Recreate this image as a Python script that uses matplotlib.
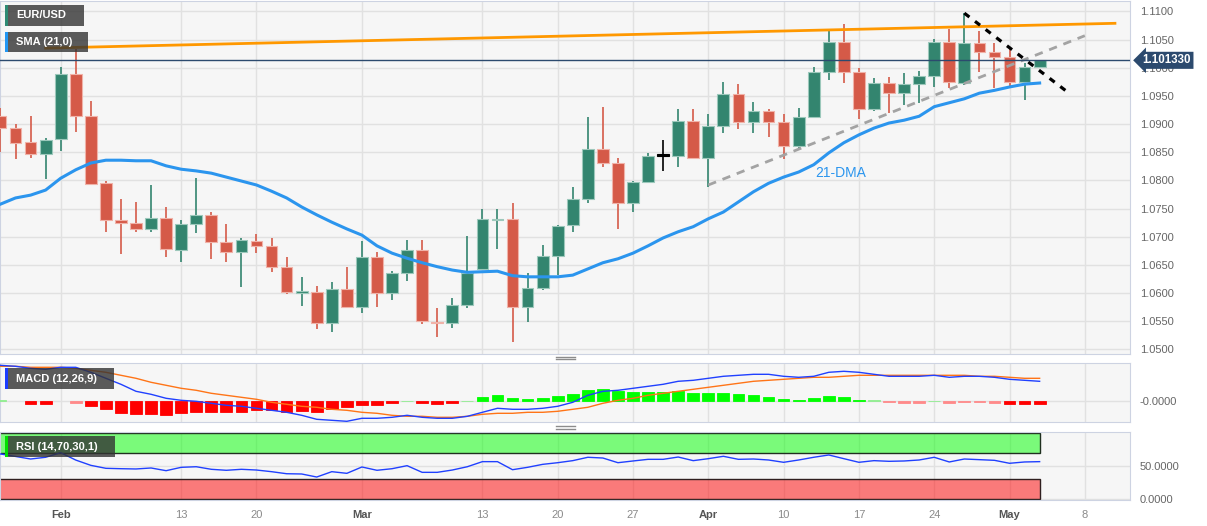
import numpy as np
import pandas as pd
import matplotlib
matplotlib.use("Agg")
import matplotlib.pyplot as plt
from matplotlib.patches import Rectangle
from matplotlib.lines import Line2D

plt.rcParams['font.family'] = ['Liberation Sans', 'DejaVu Sans']

# daily EUR/USD candles, 26 Jan - 3 May 2023
dates = pd.bdate_range("2023-01-26", "2023-05-03")

opens = [1.0914, 1.0893, 1.0869, 1.0847, 1.0874, 1.0989, 1.0914, 1.0796, 1.0729, 1.0724,
         1.0714, 1.0733, 1.0677, 1.0723, 1.0739, 1.0691, 1.0673, 1.0693, 1.0684, 1.0647,
         1.0601, 1.0602, 1.0547, 1.0607, 1.0576, 1.0664, 1.0600, 1.0636, 1.0677, 1.0549,
         1.0547, 1.0579, 1.0643, 1.0730, 1.0732, 1.0576, 1.0609, 1.0666, 1.0721, 1.0767,
         1.0856, 1.0831, 1.0760, 1.0797, 1.0844, 1.0844, 1.0906, 1.0840, 1.0897, 1.0954,
         1.0904, 1.0923, 1.0904, 1.0861, 1.0913, 1.0993, 1.1046, 1.0993, 1.0927, 1.0973,
         1.0955, 1.0971, 1.0986, 1.1046, 1.0973, 1.1044, 1.1028, 1.1019, 1.0975, 1.1002]
highs = [1.0929, 1.0900, 1.0914, 1.0875, 1.1002, 1.1033, 1.0941, 1.0799, 1.0767, 1.0762,
         1.0792, 1.0753, 1.0730, 1.0804, 1.0744, 1.0723, 1.0698, 1.0705, 1.0698, 1.0664,
         1.0629, 1.0613, 1.0620, 1.0647, 1.0693, 1.0673, 1.0639, 1.0694, 1.0694, 1.0574,
         1.0591, 1.0702, 1.0749, 1.0749, 1.0760, 1.0636, 1.0686, 1.0721, 1.0789, 1.0913,
         1.0931, 1.0840, 1.0799, 1.0849, 1.0872, 1.0927, 1.0927, 1.0918, 1.0975, 1.0971,
         1.0939, 1.0927, 1.0918, 1.0929, 1.1002, 1.1069, 1.1078, 1.1000, 1.0982, 1.0984,
         1.0991, 1.0994, 1.1051, 1.1069, 1.1097, 1.1065, 1.1044, 1.1037, 1.1009, 1.1014]
lows = [1.0851, 1.0838, 1.0840, 1.0803, 1.0852, 1.0886, 1.0792, 1.0709, 1.0670, 1.0709,
        1.0709, 1.0664, 1.0655, 1.0707, 1.0661, 1.0655, 1.0611, 1.0671, 1.0638, 1.0599,
        1.0577, 1.0536, 1.0531, 1.0574, 1.0565, 1.0576, 1.0588, 1.0622, 1.0545, 1.0522,
        1.0538, 1.0574, 1.0643, 1.0678, 1.0513, 1.0549, 1.0606, 1.0632, 1.0709, 1.0760,
        1.0824, 1.0714, 1.0744, 1.0796, 1.0817, 1.0824, 1.0838, 1.0789, 1.0884, 1.0891,
        1.0884, 1.0877, 1.0838, 1.0858, 1.0911, 1.0978, 1.0973, 1.0909, 1.0923, 1.0920,
        1.0934, 1.0938, 1.0966, 1.0964, 1.0970, 1.0993, 1.0964, 1.0968, 1.0943, 1.1000]
closes = [1.0893, 1.0867, 1.0847, 1.0872, 1.0989, 1.0914, 1.0794, 1.0730, 1.0725, 1.0714,
          1.0733, 1.0678, 1.0723, 1.0739, 1.0691, 1.0673, 1.0694, 1.0684, 1.0647, 1.0602,
          1.0602, 1.0547, 1.0607, 1.0576, 1.0664, 1.0600, 1.0636, 1.0677, 1.0551, 1.0547,
          1.0579, 1.0636, 1.0732, 1.0732, 1.0576, 1.0609, 1.0666, 1.0719, 1.0767, 1.0856,
          1.0831, 1.0760, 1.0797, 1.0844, 1.0844, 1.0906, 1.0840, 1.0897, 1.0954, 1.0904,
          1.0923, 1.0904, 1.0861, 1.0913, 1.0993, 1.1046, 1.0993, 1.0927, 1.0973, 1.0955,
          1.0971, 1.0986, 1.1046, 1.0975, 1.1044, 1.1028, 1.1019, 1.0975, 1.1002, 1.10133]

sma21 = [1.0758, 1.0769, 1.0774, 1.0783, 1.0804, 1.0819, 1.0831, 1.0836, 1.0836, 1.0835,
         1.0835, 1.0826, 1.0820, 1.0817, 1.0813, 1.0806, 1.0799, 1.0792, 1.0781, 1.0769,
         1.0753, 1.0739, 1.0726, 1.0714, 1.0703, 1.0684, 1.0671, 1.0662, 1.0654, 1.0647,
         1.0641, 1.0637, 1.0638, 1.0639, 1.0631, 1.0629, 1.0629, 1.0629, 1.0632, 1.0643,
         1.0654, 1.0661, 1.0671, 1.0684, 1.0698, 1.0709, 1.0718, 1.0732, 1.0744, 1.0762,
         1.0780, 1.0795, 1.0806, 1.0815, 1.0828, 1.0849, 1.0867, 1.0881, 1.0893, 1.0902,
         1.0907, 1.0914, 1.0931, 1.0938, 1.0945, 1.0955, 1.0960, 1.0966, 1.0971, 1.0973]

# MACD values in 1e-4 units
macd_line = [36, 35, 33, 32, 34, 34, 29, 23, 17, 10, 7, 3, 1, 0, -2, -4, -5, -7, -9, -11,
             -14, -18, -19, -20, -17, -17, -16, -14, -16, -17, -17, -15, -11, -7, -8, -8, -7, -5, -1, 6,
             10, 11, 13, 15, 17, 20, 21, 23, 25, 26, 27, 27, 25, 24, 25, 29, 30, 29, 27, 25,
             25, 25, 26, 24, 25, 25, 24, 22, 21, 20]
macd_signal = [35, 35, 34, 34, 34, 33, 31, 29, 26, 23, 19, 16, 13, 11, 8, 6, 4, 2, -1, -3,
               -5, -6, -8, -9, -11, -12, -14, -15, -15, -16, -16, -15, -13, -12, -12, -11, -11, -10, -8, -6,
               -2, 1, 3, 6, 8, 10, 12, 14, 16, 18, 20, 21, 22, 23, 24, 24, 25, 26, 26, 26,
               26, 26, 26, 26, 26, 25, 25, 24, 23, 23]
macd_hist = [1.3, 0, -2.3, -2.3, 0, -1.3, -4.7, -8, -11.3, -12.7,
             -13, -14, -12, -11, -11, -11, -10.3, -8.3, -8.7, -10.3,
             -9.7, -10.3, -8, -6, -4, -3.5, -2, 0.3, -2, -2.3,
             -2, 0.3, 4, 6.7, 3.7, 2.3, 3.7, 5.7, 7.7, 11,
             12, 10, 9.3, 9.3, 9, 10.3, 8, 8, 8.7, 7.3,
             6.7, 4.7, 2.3, 1.7, 3, 5, 4.3, 1.7, 1.3, -0.5,
             -1.3, -1.3, 0.3, -1.3, -0.5, -0.5, -1.3, -2.7, -3, -3]

rsi = [68.2, 64.5, 60.6, 63.2, 70.2, 59.0, 51.0, 46.5, 45.9, 45.5,
       47.0, 42.9, 48.0, 48.9, 45.0, 43.5, 45.0, 43.9, 41.4, 38.3,
       37.9, 33.3, 41.4, 38.9, 48.5, 43.5, 45.9, 50.5, 40.4, 40.4,
       43.9, 48.9, 56.6, 56.6, 44.4, 48.0, 52.5, 55.0, 58.1, 63.2,
       62.1, 55.0, 57.6, 60.1, 60.1, 63.6, 58.1, 61.1, 64.7, 60.1,
       60.6, 59.1, 55.6, 59.1, 63.2, 66.7, 61.1, 55.6, 58.1, 57.1,
       57.6, 59.1, 63.2, 56.1, 60.6, 59.6, 58.6, 54.1, 56.1, 56.6]

last_price = 1.101330

# trend lines: (dates, prices)
resist_dates = ["2023-01-31", "2023-05-10"]
resist_prices = [1.1035, 1.1079]
support_dates = ["2023-04-03", "2023-05-08"]
support_prices = [1.0792, 1.1057]
down_dates = ["2023-04-26", "2023-05-05"]
down_prices = [1.1097, 1.0954]

tick_dates = ["2023-02-01", "2023-02-13", "2023-02-20", "2023-03-01", "2023-03-13", "2023-03-20",
              "2023-03-27", "2023-04-03", "2023-04-10", "2023-04-17", "2023-04-24", "2023-05-01",
              "2023-05-08"]
tick_labels = ["Feb", "13", "20", "Mar", "13", "20", "27", "Apr", "10", "17", "24", "May", "8"]
price_ticks = np.arange(1.05, 1.1101, 0.005)

start = "2023-01-26"


def idx(d):
    return np.busday_count(start, d)


W, H = 1207, 526


def fx(x):
    return x / W


def fy(y):
    return 1 - y / H


fig = plt.figure(figsize=(W / 100, H / 100), dpi=100)
fig.patch.set_facecolor("white")

ax = fig.add_axes([0, fy(354), fx(1130), (354 - 1) / H])
ax_macd = fig.add_axes([0, fy(422), fx(1130), (422 - 363) / H])
ax_rsi = fig.add_axes([0, fy(500), fx(1130), (500 - 432) / H])

x = np.arange(len(dates))
xt = [idx(d) for d in tick_dates]
green, red = "#33856f", "#d55a48"

for a in (ax, ax_macd, ax_rsi):
    a.set_facecolor("#f6f6f6")
    a.set_xlim(-0.03, 75.0)
    a.set_xticks(xt)
    a.grid(True, color="#e1e1e1", lw=1)
    a.set_axisbelow(True)
    a.yaxis.tick_right()
    a.tick_params(axis="both", length=0, labelsize=8, labelcolor="#666666")
    a.tick_params(axis="y", pad=7)
    for s in a.spines.values():
        s.set_color("#cdd3e2")
    if a is not ax_rsi:
        a.set_xticklabels([])

# ---- price panel
o, h, l, c = map(np.array, (opens, highs, lows, closes))
colors = np.where(c > o, green, np.where(c < o, red, "black"))
edges = np.where(c > o, "#9cc8bb", np.where(c < o, "#f0b2a8", "black"))
body_lo = np.minimum(o, c)
body_h = np.maximum(np.abs(c - o), 0.00022)
ax.vlines(x, l, h, colors=colors, lw=1.2, zorder=3)
ax.bar(x, body_h, bottom=body_lo, width=0.78, color=colors, edgecolor=edges, linewidth=0.8, zorder=4)

ax.plot(x, sma21, color="#2b95ee", lw=2.2, zorder=5)
ax.plot([idx(d) for d in resist_dates], resist_prices, color="#ff9800", lw=2, zorder=5)
ax.plot([idx(d) for d in support_dates], support_prices, color="#a3a3a3", lw=2,
        ls=(0, (3, 2.5)), zorder=5)
ax.plot([idx(d) for d in down_dates], down_prices, color="black", lw=2.3,
        ls=(0, (2, 2.2)), zorder=6)
ax.axhline(last_price, color="#2c4a6e", lw=1, zorder=6)
ax.text(54.1, 1.0813, "21-DMA", color="#2b95ee", fontsize=10, va="center", ha="left", zorder=7)

ax.set_ylim(1.0492, 1.11186)
ax.set_yticks(price_ticks)
ax.set_yticklabels([f"{p:.4f}" for p in price_ticks])
ax.text(1.011, last_price, f"{last_price:.6f}", transform=ax.get_yaxis_transform(),
        ha="left", va="center", color="white", fontsize=8.3, fontweight="bold", zorder=20,
        clip_on=False, bbox=dict(boxstyle="larrow,pad=0.22", fc="#2c4a6e", ec="none"))

# ---- MACD panel
hist = np.array(macd_hist)
hcol = []
for v in hist:
    if v > 0:
        hcol.append("#00ff00" if v >= 1.5 else "#90ee90")
    else:
        hcol.append("#ff0000" if v <= -1.5 else "#ff8a8a")
keep = hist != 0
ax_macd.bar(x[keep], hist[keep], width=0.78, color=np.array(hcol)[keep],
            edgecolor=np.array(hcol)[keep], linewidth=0.6, zorder=3)
ax_macd.plot(x, macd_signal, color="#ff7417", lw=1, zorder=4)
ax_macd.plot(x, macd_line, color="#2040ff", lw=1, zorder=5)
ax_macd.set_ylim(-20.7, 38.3)
ax_macd.set_yticks([0])
ax_macd.set_yticklabels(["-0.0000"])

# ---- RSI panel
ax_rsi.add_patch(Rectangle((-1, 70), x[-1] + 1, 30, fc=(0, 1, 0, 0.5), ec="#1f2f1f", lw=1, zorder=2))
ax_rsi.add_patch(Rectangle((-1, 0), x[-1] + 1, 30, fc=(1, 0, 0, 0.5), ec="#2f1f1f", lw=1, zorder=2))
ax_rsi.plot(x, rsi, color="#2040ff", lw=1, zorder=4)
ax_rsi.set_ylim(-1.5, 101.5)
ax_rsi.set_yticks([0, 50])
ax_rsi.set_yticklabels(["0.0000", "50.0000"])
ax_rsi.set_xticklabels(tick_labels)
ax_rsi.tick_params(axis="x", pad=7)
for t in ax_rsi.get_xticklabels():
    if t.get_text() in ("Feb", "Mar", "Apr", "May"):
        t.set_fontweight("bold")
        t.set_color("#555555")
    else:
        t.set_color("#8a8a8a")

# ---- indicator name boxes
boxes = [(5, 5, 84, 26, "EUR/USD", "#2e8b74"),
         (5, 32, 88, 52, "SMA (21,0)", "#2196f3"),
         (5, 368, 114, 389, "MACD (12,26,9)", "#1a3cff"),
         (5, 436, 115, 457, "RSI (14,70,30,1)", "#00e000")]
for x0, y0, x1, y1, name, bar in boxes:
    fig.add_artist(Rectangle((fx(x0), fy(y1)), fx(x1) - fx(x0), fy(y0) - fy(y1),
                             transform=fig.transFigure, fc=(0.2, 0.2, 0.2, 0.8), ec="none", zorder=10))
    fig.add_artist(Rectangle((fx(x0), fy(y1)), fx(2.5), fy(y0) - fy(y1),
                             transform=fig.transFigure, fc=bar, ec="none", zorder=11))
    fig.text(fx(x0 + 11), fy((y0 + y1) / 2), name, color="white", fontsize=8,
             fontweight="bold", va="center", ha="left", zorder=12)

# panel separators
for yy in (356.5, 359, 426, 428.5):
    fig.add_artist(Line2D([fx(556), fx(575)], [fy(yy), fy(yy)], color="#8c8c8c", lw=1,
                          transform=fig.transFigure))

fig.savefig("out.png", dpi=100)
